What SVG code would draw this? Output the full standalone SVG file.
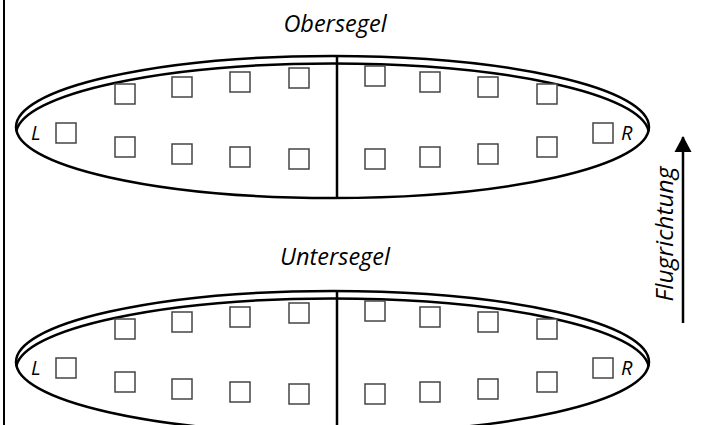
<svg xmlns="http://www.w3.org/2000/svg" width="701" height="425" viewBox="0 0 701 425">
<defs>
<style>
.wing{fill:none;stroke:#000;stroke-width:2.5}
.spar{stroke:#000;stroke-width:2.5}
.sq{fill:#fff;stroke:#444;stroke-width:1.5}
.t{font-family:"Open Sans","DejaVu Sans",sans-serif;font-style:italic;fill:#000}
.title{font-size:23.5px}
.side{font-size:20px}
.dir{font-size:24.5px}
</style>
<marker id="ah" markerWidth="16" markerHeight="18" refX="15" refY="8.5" orient="auto" markerUnits="userSpaceOnUse" viewBox="0 0 16 17">
<path d="M0,0 L16,8.5 L0,17 Z" fill="#000"/>
</marker>
<g id="sqset">
<rect class="sq" x="56" y="123" width="20" height="20"/>
<rect class="sq" x="115" y="84" width="20" height="20"/>
<rect class="sq" x="172" y="77" width="20" height="20"/>
<rect class="sq" x="230" y="72" width="20" height="20"/>
<rect class="sq" x="289" y="68" width="20" height="20"/>
<rect class="sq" x="115" y="137" width="20" height="20"/>
<rect class="sq" x="172" y="144" width="20" height="20"/>
<rect class="sq" x="230" y="147" width="20" height="20"/>
<rect class="sq" x="289" y="149" width="20" height="20"/>
<rect class="sq" x="365" y="66" width="20" height="20"/>
<rect class="sq" x="420" y="72" width="20" height="20"/>
<rect class="sq" x="478" y="77" width="20" height="20"/>
<rect class="sq" x="537" y="84" width="20" height="20"/>
<rect class="sq" x="365" y="149" width="20" height="20"/>
<rect class="sq" x="420" y="147" width="20" height="20"/>
<rect class="sq" x="478" y="144" width="20" height="20"/>
<rect class="sq" x="537" y="137" width="20" height="20"/>
<rect class="sq" x="593" y="123" width="20" height="20"/>
</g>
</defs>
<line x1="4" y1="0" x2="4" y2="425" stroke="#000" stroke-width="2"/>
<g id="obersegel">
<text class="t title" x="335" y="32" text-anchor="middle">Obersegel</text>
<ellipse class="wing" cx="332.5" cy="127" rx="316.5" ry="71"/>
<path class="wing" d="M16.44,130.75 A316.5,71 0 0 1 648.56,130.75"/>
<line class="spar" x1="337" y1="56" x2="337" y2="198"/>
<use href="#sqset"/>
<text class="t side" x="31" y="140">L</text>
<text class="t side" x="621" y="140">R</text>
</g>
<g id="untersegel" transform="translate(0,235)">
<text class="t title" x="335" y="30" text-anchor="middle">Untersegel</text>
<ellipse class="wing" cx="332.5" cy="127" rx="316.5" ry="71"/>
<path class="wing" d="M16.44,130.75 A316.5,71 0 0 1 648.56,130.75"/>
<line class="spar" x1="337" y1="56" x2="337" y2="198"/>
<use href="#sqset"/>
<text class="t side" x="31" y="140">L</text>
<text class="t side" x="621" y="140">R</text>
</g>
<g id="connectors">
<line x1="683" y1="323" x2="683" y2="137" stroke="#000" stroke-width="2.5" marker-end="url(#ah)"/>
</g>
<g id="flugrichtung">
<text class="t dir" transform="translate(673,234) rotate(-90)" text-anchor="middle">Flugrichtung</text>
</g>
</svg>
